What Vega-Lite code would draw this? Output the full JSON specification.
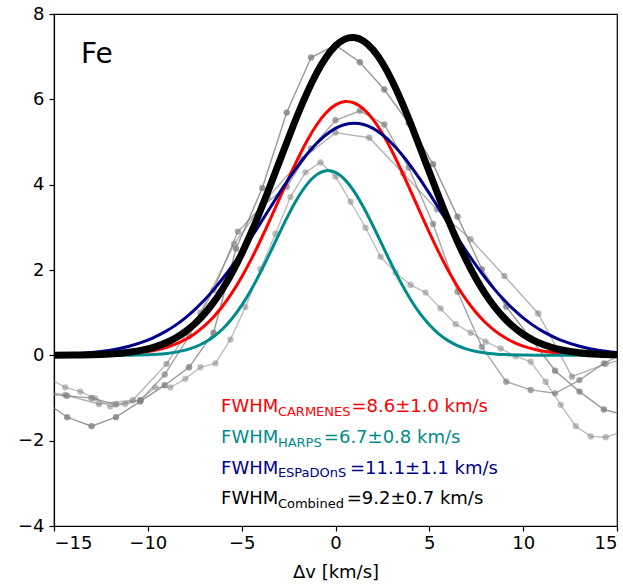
{
"$schema":"https://vega.github.io/schema/vega-lite/v6.json",
"width":563,"height":512,"autosize":"none",
"padding":{"left":54,"top":14,"right":6,"bottom":58},
"datasets":{
"obs":[
{"s":"A","x":-15.6,"y":-1.05},{"s":"A","x":-14.3,"y":-1.45},{"s":"A","x":-13.0,"y":-1.66},{"s":"A","x":-11.7,"y":-1.45},{"s":"A","x":-10.4,"y":-1.08},{"s":"A","x":-9.1,"y":-0.70},{"s":"A","x":-7.8,"y":-0.28},{"s":"A","x":-6.5,"y":0.53},{"s":"A","x":-5.3,"y":2.5},{"s":"A","x":-3.9,"y":3.92},{"s":"A","x":-2.6,"y":5.69},{"s":"A","x":-1.3,"y":6.98},{"s":"A","x":0.0,"y":7.27},{"s":"A","x":1.3,"y":6.87},{"s":"A","x":2.6,"y":6.23},{"s":"A","x":3.9,"y":5.44},{"s":"A","x":5.2,"y":4.48},{"s":"A","x":6.5,"y":3.25},{"s":"A","x":7.8,"y":2.02},{"s":"A","x":9.1,"y":1.14},{"s":"A","x":10.4,"y":0.4},{"s":"A","x":11.7,"y":-0.36},{"s":"A","x":13.0,"y":-0.85},{"s":"A","x":14.3,"y":-1.27},{"s":"A","x":15.6,"y":-1.42},
{"s":"B","x":-15.6,"y":-0.9},{"s":"B","x":-14.3,"y":-0.95},{"s":"B","x":-13.0,"y":-1.0},{"s":"B","x":-11.7,"y":-1.15},{"s":"B","x":-10.4,"y":-1.05},{"s":"B","x":-9.1,"y":-0.45},{"s":"B","x":-7.8,"y":0.45},{"s":"B","x":-6.5,"y":1.53},{"s":"B","x":-5.2,"y":2.9},{"s":"B","x":-3.9,"y":3.5},{"s":"B","x":-2.6,"y":3.95},{"s":"B","x":-1.3,"y":4.85},{"s":"B","x":0.0,"y":5.51},{"s":"B","x":1.3,"y":5.73},{"s":"B","x":2.6,"y":5.41},{"s":"B","x":3.9,"y":4.4},{"s":"B","x":5.2,"y":3.08},{"s":"B","x":6.5,"y":1.49},{"s":"B","x":7.8,"y":0.2},{"s":"B","x":9.1,"y":-0.62},{"s":"B","x":10.4,"y":-0.81},{"s":"B","x":11.7,"y":-0.89},{"s":"B","x":13.0,"y":-0.58},{"s":"B","x":14.3,"y":-0.19},{"s":"B","x":15.6,"y":0.1},
{"s":"C","x":-16.2,"y":-0.8},{"s":"C","x":-14.4,"y":-0.93},{"s":"C","x":-12.6,"y":-1.14},{"s":"C","x":-10.8,"y":-1.05},{"s":"C","x":-9.0,"y":-0.2},{"s":"C","x":-7.2,"y":1.0},{"s":"C","x":-5.4,"y":2.61},{"s":"C","x":-3.6,"y":3.7},{"s":"C","x":-1.8,"y":4.6},{"s":"C","x":0.0,"y":5.22},{"s":"C","x":1.8,"y":5.10},{"s":"C","x":3.6,"y":4.27},{"s":"C","x":5.4,"y":3.42},{"s":"C","x":7.2,"y":2.72},{"s":"C","x":9.0,"y":1.86},{"s":"C","x":10.8,"y":0.98},{"s":"C","x":12.6,"y":-0.5},{"s":"C","x":14.4,"y":-0.2},{"s":"C","x":16.2,"y":0.0},
{"s":"D","x":-15.2,"y":-0.55},{"s":"D","x":-14.4,"y":-0.75},{"s":"D","x":-13.6,"y":-0.85},{"s":"D","x":-12.8,"y":-1.01},{"s":"D","x":-12.0,"y":-1.2},{"s":"D","x":-11.2,"y":-1.14},{"s":"D","x":-10.4,"y":-1.05},{"s":"D","x":-9.6,"y":-0.75},{"s":"D","x":-8.8,"y":-0.75},{"s":"D","x":-8.0,"y":-0.55},{"s":"D","x":-7.2,"y":-0.28},{"s":"D","x":-6.4,"y":-0.19},{"s":"D","x":-5.6,"y":0.37},{"s":"D","x":-4.8,"y":1.13},{"s":"D","x":-4.0,"y":2.02},{"s":"D","x":-3.2,"y":2.85},{"s":"D","x":-2.4,"y":3.71},{"s":"D","x":-1.6,"y":4.29},{"s":"D","x":-0.8,"y":4.52},{"s":"D","x":0.0,"y":4.19},{"s":"D","x":0.8,"y":3.60},{"s":"D","x":1.6,"y":2.99},{"s":"D","x":2.4,"y":2.31},{"s":"D","x":3.2,"y":1.94},{"s":"D","x":4.0,"y":1.65},{"s":"D","x":4.8,"y":1.47},{"s":"D","x":5.6,"y":1.10},{"s":"D","x":6.4,"y":0.73},{"s":"D","x":7.2,"y":0.53},{"s":"D","x":8.0,"y":0.32},{"s":"D","x":8.8,"y":0.16},{"s":"D","x":9.6,"y":-0.02},{"s":"D","x":10.4,"y":-0.15},{"s":"D","x":11.2,"y":-0.62},{"s":"D","x":12.0,"y":-1.16},{"s":"D","x":12.8,"y":-1.66},{"s":"D","x":13.6,"y":-1.9},{"s":"D","x":14.4,"y":-1.92},{"s":"D","x":15.2,"y":-1.8}
],
"fits":[
{"s":"CARMENES","x":-15,"y":0.001},{"s":"CARMENES","x":-14,"y":0.002},{"s":"CARMENES","x":-13,"y":0.006},{"s":"CARMENES","x":-12,"y":0.016},{"s":"CARMENES","x":-11,"y":0.038},{"s":"CARMENES","x":-10,"y":0.088},{"s":"CARMENES","x":-9.5,"y":0.130},{"s":"CARMENES","x":-9,"y":0.188},{"s":"CARMENES","x":-8.5,"y":0.267},{"s":"CARMENES","x":-8,"y":0.372},{"s":"CARMENES","x":-7.5,"y":0.508},{"s":"CARMENES","x":-7,"y":0.683},{"s":"CARMENES","x":-6.5,"y":0.899},{"s":"CARMENES","x":-6,"y":1.162},{"s":"CARMENES","x":-5.5,"y":1.474},{"s":"CARMENES","x":-5,"y":1.836},{"s":"CARMENES","x":-4.5,"y":2.244},{"s":"CARMENES","x":-4,"y":2.691},{"s":"CARMENES","x":-3.5,"y":3.168},{"s":"CARMENES","x":-3,"y":3.660},{"s":"CARMENES","x":-2.5,"y":4.150},{"s":"CARMENES","x":-2,"y":4.618},{"s":"CARMENES","x":-1.5,"y":5.043},{"s":"CARMENES","x":-1,"y":5.405},{"s":"CARMENES","x":-0.5,"y":5.686},{"s":"CARMENES","x":0,"y":5.870},{"s":"CARMENES","x":0.5,"y":5.948},{"s":"CARMENES","x":1,"y":5.914},{"s":"CARMENES","x":1.5,"y":5.772},{"s":"CARMENES","x":2,"y":5.529},{"s":"CARMENES","x":2.5,"y":5.197},{"s":"CARMENES","x":3,"y":4.795},{"s":"CARMENES","x":3.5,"y":4.341},{"s":"CARMENES","x":4,"y":3.857},{"s":"CARMENES","x":4.5,"y":3.364},{"s":"CARMENES","x":5,"y":2.879},{"s":"CARMENES","x":5.5,"y":2.419},{"s":"CARMENES","x":6,"y":1.994},{"s":"CARMENES","x":6.5,"y":1.614},{"s":"CARMENES","x":7,"y":1.281},{"s":"CARMENES","x":7.5,"y":0.998},{"s":"CARMENES","x":8,"y":0.763},{"s":"CARMENES","x":8.5,"y":0.573},{"s":"CARMENES","x":9,"y":0.422},{"s":"CARMENES","x":9.5,"y":0.305},{"s":"CARMENES","x":10,"y":0.217},{"s":"CARMENES","x":10.5,"y":0.151},{"s":"CARMENES","x":11,"y":0.103},{"s":"CARMENES","x":12,"y":0.046},{"s":"CARMENES","x":13,"y":0.019},{"s":"CARMENES","x":14,"y":0.007},{"s":"CARMENES","x":15,"y":0.003},
{"s":"HARPS","x":-15,"y":0},{"s":"HARPS","x":-13,"y":0.0002},{"s":"HARPS","x":-12,"y":0.001},{"s":"HARPS","x":-11,"y":0.004},{"s":"HARPS","x":-10,"y":0.015},{"s":"HARPS","x":-9.5,"y":0.026},{"s":"HARPS","x":-9,"y":0.045},{"s":"HARPS","x":-8.5,"y":0.075},{"s":"HARPS","x":-8,"y":0.122},{"s":"HARPS","x":-7.5,"y":0.192},{"s":"HARPS","x":-7,"y":0.294},{"s":"HARPS","x":-6.5,"y":0.435},{"s":"HARPS","x":-6,"y":0.624},{"s":"HARPS","x":-5.5,"y":0.869},{"s":"HARPS","x":-5,"y":1.172},{"s":"HARPS","x":-4.5,"y":1.533},{"s":"HARPS","x":-4,"y":1.945},{"s":"HARPS","x":-3.5,"y":2.392},{"s":"HARPS","x":-3,"y":2.852},{"s":"HARPS","x":-2.5,"y":3.297},{"s":"HARPS","x":-2,"y":3.697},{"s":"HARPS","x":-1.5,"y":4.018},{"s":"HARPS","x":-1,"y":4.235},{"s":"HARPS","x":-0.5,"y":4.327},{"s":"HARPS","x":0,"y":4.287},{"s":"HARPS","x":0.5,"y":4.119},{"s":"HARPS","x":1,"y":3.837},{"s":"HARPS","x":1.5,"y":3.465},{"s":"HARPS","x":2,"y":3.034},{"s":"HARPS","x":2.5,"y":2.576},{"s":"HARPS","x":3,"y":2.120},{"s":"HARPS","x":3.5,"y":1.692},{"s":"HARPS","x":4,"y":1.309},{"s":"HARPS","x":4.5,"y":0.982},{"s":"HARPS","x":5,"y":0.715},{"s":"HARPS","x":5.5,"y":0.504},{"s":"HARPS","x":6,"y":0.345},{"s":"HARPS","x":6.5,"y":0.229},{"s":"HARPS","x":7,"y":0.147},{"s":"HARPS","x":7.5,"y":0.092},{"s":"HARPS","x":8,"y":0.056},{"s":"HARPS","x":8.5,"y":0.033},{"s":"HARPS","x":9,"y":0.018},{"s":"HARPS","x":10,"y":0.005},{"s":"HARPS","x":11,"y":0.001},{"s":"HARPS","x":12,"y":0},{"s":"HARPS","x":13,"y":0},{"s":"HARPS","x":14,"y":0},{"s":"HARPS","x":15,"y":0},
{"s":"ESPaDOnS","x":-15,"y":0.017},{"s":"ESPaDOnS","x":-14,"y":0.034},{"s":"ESPaDOnS","x":-13,"y":0.066},{"s":"ESPaDOnS","x":-12,"y":0.121},{"s":"ESPaDOnS","x":-11,"y":0.213},{"s":"ESPaDOnS","x":-10,"y":0.357},{"s":"ESPaDOnS","x":-9.5,"y":0.455},{"s":"ESPaDOnS","x":-9,"y":0.573},{"s":"ESPaDOnS","x":-8.5,"y":0.714},{"s":"ESPaDOnS","x":-8,"y":0.879},{"s":"ESPaDOnS","x":-7.5,"y":1.071},{"s":"ESPaDOnS","x":-7,"y":1.289},{"s":"ESPaDOnS","x":-6.5,"y":1.534},{"s":"ESPaDOnS","x":-6,"y":1.806},{"s":"ESPaDOnS","x":-5.5,"y":2.103},{"s":"ESPaDOnS","x":-5,"y":2.420},{"s":"ESPaDOnS","x":-4.5,"y":2.754},{"s":"ESPaDOnS","x":-4,"y":3.099},{"s":"ESPaDOnS","x":-3.5,"y":3.449},{"s":"ESPaDOnS","x":-3,"y":3.795},{"s":"ESPaDOnS","x":-2.5,"y":4.129},{"s":"ESPaDOnS","x":-2,"y":4.443},{"s":"ESPaDOnS","x":-1.5,"y":4.726},{"s":"ESPaDOnS","x":-1,"y":4.972},{"s":"ESPaDOnS","x":-0.5,"y":5.171},{"s":"ESPaDOnS","x":0,"y":5.319},{"s":"ESPaDOnS","x":0.5,"y":5.409},{"s":"ESPaDOnS","x":1,"y":5.44},{"s":"ESPaDOnS","x":1.5,"y":5.409},{"s":"ESPaDOnS","x":2,"y":5.319},{"s":"ESPaDOnS","x":2.5,"y":5.171},{"s":"ESPaDOnS","x":3,"y":4.972},{"s":"ESPaDOnS","x":3.5,"y":4.726},{"s":"ESPaDOnS","x":4,"y":4.443},{"s":"ESPaDOnS","x":4.5,"y":4.129},{"s":"ESPaDOnS","x":5,"y":3.795},{"s":"ESPaDOnS","x":5.5,"y":3.449},{"s":"ESPaDOnS","x":6,"y":3.099},{"s":"ESPaDOnS","x":6.5,"y":2.754},{"s":"ESPaDOnS","x":7,"y":2.420},{"s":"ESPaDOnS","x":7.5,"y":2.103},{"s":"ESPaDOnS","x":8,"y":1.806},{"s":"ESPaDOnS","x":8.5,"y":1.534},{"s":"ESPaDOnS","x":9,"y":1.289},{"s":"ESPaDOnS","x":9.5,"y":1.071},{"s":"ESPaDOnS","x":10,"y":0.879},{"s":"ESPaDOnS","x":10.5,"y":0.714},{"s":"ESPaDOnS","x":11,"y":0.573},{"s":"ESPaDOnS","x":11.5,"y":0.455},{"s":"ESPaDOnS","x":12,"y":0.357},{"s":"ESPaDOnS","x":13,"y":0.213},{"s":"ESPaDOnS","x":14,"y":0.121},{"s":"ESPaDOnS","x":15,"y":0.066},
{"s":"Combined","x":-15,"y":0.002},{"s":"Combined","x":-14,"y":0.005},{"s":"Combined","x":-13,"y":0.013},{"s":"Combined","x":-12,"y":0.032},{"s":"Combined","x":-11,"y":0.072},{"s":"Combined","x":-10,"y":0.152},{"s":"Combined","x":-9.5,"y":0.215},{"s":"Combined","x":-9,"y":0.301},{"s":"Combined","x":-8.5,"y":0.412},{"s":"Combined","x":-8,"y":0.556},{"s":"Combined","x":-7.5,"y":0.739},{"s":"Combined","x":-7,"y":0.965},{"s":"Combined","x":-6.5,"y":1.240},{"s":"Combined","x":-6,"y":1.566},{"s":"Combined","x":-5.5,"y":1.947},{"s":"Combined","x":-5,"y":2.382},{"s":"Combined","x":-4.5,"y":2.867},{"s":"Combined","x":-4,"y":3.394},{"s":"Combined","x":-3.5,"y":3.951},{"s":"Combined","x":-3,"y":4.527},{"s":"Combined","x":-2.5,"y":5.102},{"s":"Combined","x":-2,"y":5.656},{"s":"Combined","x":-1.5,"y":6.169},{"s":"Combined","x":-1,"y":6.619},{"s":"Combined","x":-0.5,"y":6.987},{"s":"Combined","x":0,"y":7.255},{"s":"Combined","x":0.5,"y":7.411},{"s":"Combined","x":1,"y":7.448},{"s":"Combined","x":1.5,"y":7.363},{"s":"Combined","x":2,"y":7.160},{"s":"Combined","x":2.5,"y":6.851},{"s":"Combined","x":3,"y":6.448},{"s":"Combined","x":3.5,"y":5.970},{"s":"Combined","x":4,"y":5.438},{"s":"Combined","x":4.5,"y":4.873},{"s":"Combined","x":5,"y":4.296},{"s":"Combined","x":5.5,"y":3.725},{"s":"Combined","x":6,"y":3.178},{"s":"Combined","x":6.5,"y":2.667},{"s":"Combined","x":7,"y":2.202},{"s":"Combined","x":7.5,"y":1.789},{"s":"Combined","x":8,"y":1.429},{"s":"Combined","x":8.5,"y":1.123},{"s":"Combined","x":9,"y":0.869},{"s":"Combined","x":9.5,"y":0.661},{"s":"Combined","x":10,"y":0.494},{"s":"Combined","x":10.5,"y":0.364},{"s":"Combined","x":11,"y":0.264},{"s":"Combined","x":11.5,"y":0.188},{"s":"Combined","x":12,"y":0.132},{"s":"Combined","x":13,"y":0.062},{"s":"Combined","x":14,"y":0.027},{"s":"Combined","x":15,"y":0.011}
],
"main":[
{"s":"CARMENES","x":-6.10,"y":-1.329,"t":"FWHM"},{"s":"CARMENES","x":0.85,"y":-1.329,"t":"=8.6±1.0 km/s"},
{"s":"HARPS","x":-6.10,"y":-2.055,"t":"FWHM"},{"s":"HARPS","x":-0.62,"y":-2.055,"t":"=6.7±0.8 km/s"},
{"s":"ESPaDOnS","x":-6.10,"y":-2.77,"t":"FWHM"},{"s":"ESPaDOnS","x":0.77,"y":-2.77,"t":"=11.1±1.1 km/s"},
{"s":"Combined","x":-6.10,"y":-3.485,"t":"FWHM"},{"s":"Combined","x":0.6,"y":-3.485,"t":"=9.2±0.7 km/s"}
],
"sub":[
{"s":"CARMENES","x":-3.07,"y":-1.329,"t":"CARMENES"},
{"s":"HARPS","x":-3.07,"y":-2.055,"t":"HARPS"},
{"s":"ESPaDOnS","x":-3.07,"y":-2.77,"t":"ESPaDOnS"},
{"s":"Combined","x":-3.07,"y":-3.485,"t":"Combined"}
],
"fe":[{"x":-13.56,"y":6.84,"t":"Fe"}]
},
"encoding":{
"x":{"field":"x","type":"quantitative","scale":{"domain":[-15,15],"nice":false,"zero":false},
 "axis":{"title":"Δv [km/s]","values":[-15,-10,-5,0,5,10,15],"format":"d","labelPadding":3,"titlePadding":11}},
"y":{"field":"y","type":"quantitative","scale":{"domain":[-4,8],"nice":false,"zero":false},
 "axis":{"title":null,"values":[-4,-2,0,2,4,6,8],"format":"d","labelPadding":5}}
},
"layer":[
{"data":{"name":"obs"},"mark":{"type":"line","clip":true,"strokeWidth":1.4,"color":"#808080"},
 "encoding":{"detail":{"field":"s"},"opacity":{"field":"s","type":"nominal","scale":{"domain":["A","B","C","D"],"range":[0.8,0.5,0.5,0.5]},"legend":null}}},
{"data":{"name":"obs"},"mark":{"type":"point","filled":true,"clip":true,"size":40,"color":"#808080"},
 "encoding":{"opacity":{"field":"s","type":"nominal","scale":{"domain":["A","B","C","D"],"range":[0.8,0.5,0.5,0.5]},"legend":null}}},
{"data":{"name":"fits"},"transform":[{"filter":"datum.s !== 'Combined'"}],
 "mark":{"type":"line","interpolate":"natural","strokeWidth":3,"clip":true},
 "encoding":{"color":{"field":"s","type":"nominal","scale":{"domain":["CARMENES","HARPS","ESPaDOnS","Combined"],"range":["#ff0000","#008b8b","#00008b","#000000"]},"legend":null}}},
{"data":{"name":"fits"},"transform":[{"filter":"datum.s === 'Combined'"}],
 "mark":{"type":"line","interpolate":"natural","strokeWidth":7,"color":"#000000","clip":true},
 "encoding":{}},
{"data":{"name":"main"},"mark":{"type":"text","align":"left","baseline":"alphabetic","font":"DejaVu Sans","fontSize":18},
 "encoding":{"text":{"field":"t"},"color":{"field":"s","type":"nominal","scale":{"domain":["CARMENES","HARPS","ESPaDOnS","Combined"],"range":["#ff0000","#008b8b","#00008b","#000000"]},"legend":null}}},
{"data":{"name":"sub"},"mark":{"type":"text","align":"left","baseline":"alphabetic","font":"DejaVu Sans","fontSize":13,"dy":3.5},
 "encoding":{"text":{"field":"t"},"color":{"field":"s","type":"nominal","scale":{"domain":["CARMENES","HARPS","ESPaDOnS","Combined"],"range":["#ff0000","#008b8b","#00008b","#000000"]},"legend":null}}},
{"data":{"name":"fe"},"mark":{"type":"text","align":"left","baseline":"alphabetic","font":"DejaVu Sans","fontSize":28,"color":"#000000"},
 "encoding":{"text":{"field":"t"}}}
],
"config":{
"view":{"stroke":"#000000","strokeWidth":1.2},
"axis":{"grid":false,"labelFont":"DejaVu Sans","labelFontSize":18,"labelColor":"#000000","titleFont":"DejaVu Sans","titleFontSize":18,"titleFontWeight":"normal","titleColor":"#000000","tickColor":"#000000","tickSize":5,"tickWidth":1.2,"domainColor":"#000000","domainWidth":1.2}
}
}
